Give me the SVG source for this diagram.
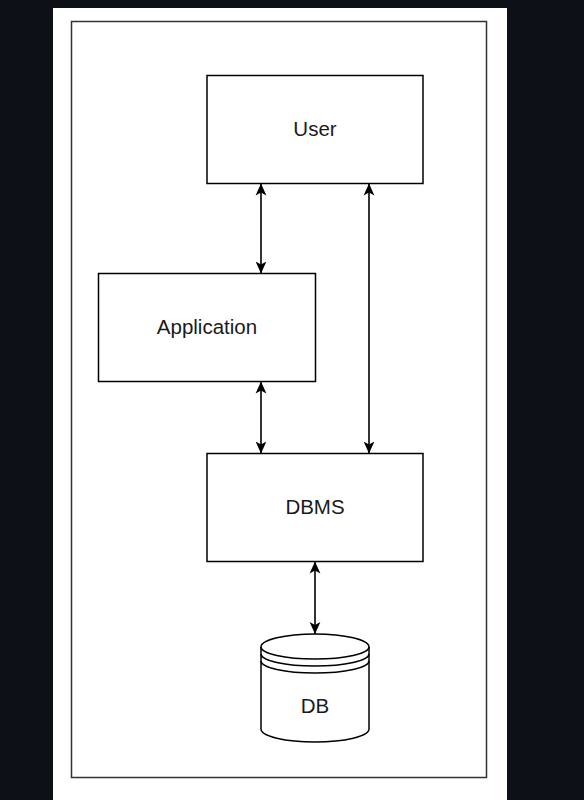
<svg xmlns="http://www.w3.org/2000/svg" width="584" height="800" viewBox="0 0 584 800">
<style>
.box{fill:#fff;stroke:#000;stroke-width:1.5}
.lbl{font-family:"Liberation Sans",Arial,sans-serif;font-size:20.5px;fill:#1a1a1a;text-anchor:middle}
.con{fill:none;stroke:#000;stroke-width:1.6;marker-start:url(#ah);marker-end:url(#ah)}
</style>
<defs>
<marker id="ah" viewBox="0 0 10 10" refX="10" refY="5" markerWidth="12" markerHeight="12" markerUnits="userSpaceOnUse" orient="auto-start-reverse">
<path d="M0,0.5 L10,5 L0,9.5 L2.5,5 Z" fill="#000"/>
</marker>
</defs>
<rect x="0" y="0" width="584" height="800" fill="#0d1117"/>
<rect x="53" y="8" width="454" height="792" fill="#fff"/>
<rect x="71.5" y="21.5" width="415" height="756" fill="none" stroke="#333" stroke-width="1.5"/>
<g id="connectors">
<line class="con" x1="261" y1="183.5" x2="261" y2="273.5"/>
<line class="con" x1="369" y1="183.5" x2="369" y2="453.5"/>
<line class="con" x1="261" y1="381.5" x2="261" y2="453.5"/>
<line class="con" x1="315" y1="561.5" x2="315" y2="634"/>
</g>
<g id="user">
<rect class="box" x="207" y="75.5" width="216" height="108"/>
<text class="lbl" x="315" y="136">User</text>
</g>
<g id="application">
<rect class="box" x="98.5" y="273.5" width="217" height="108"/>
<text class="lbl" x="207" y="334">Application</text>
</g>
<g id="dbms">
<rect class="box" x="207" y="453.5" width="216" height="108"/>
<text class="lbl" x="315" y="514">DBMS</text>
</g>
<g id="db">
<path class="box" d="M261,647 A54,13 0 0 1 369,647 L369,729 A54,13 0 0 1 261,729 Z"/>
<path fill="none" stroke="#000" stroke-width="1.5" d="M261,647 A54,12 0 0 0 369,647 M261,654 A54,12 0 0 0 369,654 M261,661 A54,12 0 0 0 369,661"/>
<text class="lbl" x="315" y="713">DB</text>
</g>
</svg>
